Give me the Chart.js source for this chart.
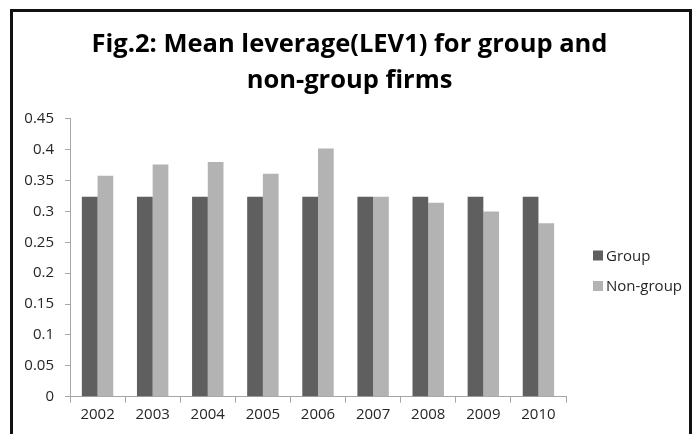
<!DOCTYPE html>
<html>
<head>
<meta charset="utf-8">
<script src="https://cdn.jsdelivr.net/npm/chart.js@4/dist/chart.umd.min.js"></script>
<style>
  html, body { margin: 0; padding: 0; background: #ffffff; }
  #wrap { position: relative; width: 693px; height: 434px; }
</style>
</head>
<body>
<div id="wrap"><canvas id="c" width="693" height="434"></canvas></div>
<script>
// Mean leverage (LEV1) by year
const years = ['2002', '2003', '2004', '2005', '2006', '2007', '2008', '2009', '2010'];
const groupLev = [0.324, 0.324, 0.324, 0.324, 0.324, 0.324, 0.324, 0.324, 0.324];
const nonGroupLev = [0.358, 0.376, 0.380, 0.361, 0.402, 0.324, 0.314, 0.300, 0.281];
const seriesNames = ['Group', 'Non-group'];
const titleLines = ['Fig.2: Mean leverage(LEV1) for group and', 'non-group firms'];

const TICK_FONT = { family: '"Open Sans", "DejaVu Sans", sans-serif', size: 15 };
const AXIS_GREY = '#a6a6a6';
const TEXT_COLOR = '#262626';

// Black frame around the top, left and right of the figure
const framePlugin = {
  id: 'frame',
  afterDraw(chart) {
    const ctx = chart.ctx;
    ctx.save();
    ctx.strokeStyle = '#111111';
    ctx.lineWidth = 3;
    ctx.beginPath();
    ctx.moveTo(11.5, 434);
    ctx.lineTo(11.5, 10.5);
    ctx.lineTo(690.5, 10.5);
    ctx.lineTo(690.5, 434);
    ctx.stroke();
    ctx.restore();
  }
};

// Square-marker legend in the space to the right of the plot
const sideLegend = {
  id: 'sideLegend',
  afterDraw(chart) {
    const ctx = chart.ctx;
    const x = chart.chartArea.right + 27, y0 = 255.5, gap = 30.5, box = 10;
    ctx.save();
    ctx.font = `${TICK_FONT.size}px ${TICK_FONT.family}`;
    ctx.textBaseline = 'middle';
    ctx.textAlign = 'left';
    chart.data.datasets.forEach((ds, i) => {
      const y = y0 + i * gap;
      ctx.fillStyle = ds.backgroundColor;
      ctx.fillRect(x, y - box / 2, box, box);
      ctx.fillStyle = TEXT_COLOR;
      ctx.fillText(ds.label, x + box + 3, y + 1);
    });
    ctx.restore();
  }
};

new Chart(document.getElementById('c'), {
  type: 'bar',
  data: {
    labels: years,
    datasets: [
      { label: seriesNames[0], data: groupLev, backgroundColor: '#5f5f5f' },
      { label: seriesNames[1], data: nonGroupLev, backgroundColor: '#b3b3b3' }
    ]
  },
  options: {
    responsive: false,
    animation: false,
    devicePixelRatio: 1,
    categoryPercentage: 0.57,
    barPercentage: 1.0,
    layout: { padding: { left: 6, right: 0, top: 0, bottom: 0 } },
    plugins: {
      legend: { display: false },
      tooltip: { enabled: false },
      title: {
        display: true,
        text: titleLines,
        color: '#000000',
        font: { family: '"Open Sans", "DejaVu Sans", sans-serif', size: 25.5, weight: 'bold', lineHeight: 1.4 },
        padding: { top: 27, bottom: 20.5 }
      }
    },
    scales: {
      x: {
        grid: { display: true, drawOnChartArea: false, tickLength: 6, color: AXIS_GREY, offset: true },
        border: { color: AXIS_GREY, width: 1 },
        ticks: { color: TEXT_COLOR, font: TICK_FONT, padding: 3, maxRotation: 0 },
        afterFit(scale) { scale.height = 37.3; }
      },
      y: {
        min: 0,
        max: 0.45,
        grid: { display: true, drawOnChartArea: false, tickLength: 5, color: AXIS_GREY },
        border: { color: AXIS_GREY, width: 1 },
        ticks: {
          stepSize: 0.05,
          color: TEXT_COLOR,
          font: TICK_FONT,
          padding: 11,
          callback: (v) => String(Math.round(v * 100) / 100)
        },
        afterFit(scale) { scale.width = 64; }
      },
      // empty right-hand band that leaves room for the legend
      legendSpace: {
        type: 'linear',
        position: 'right',
        display: true,
        grid: { display: false },
        border: { display: false },
        ticks: { display: false },
        afterFit(scale) { scale.width = 127; }
      }
    }
  },
  plugins: [framePlugin, sideLegend]
});
</script>
</body>
</html>
